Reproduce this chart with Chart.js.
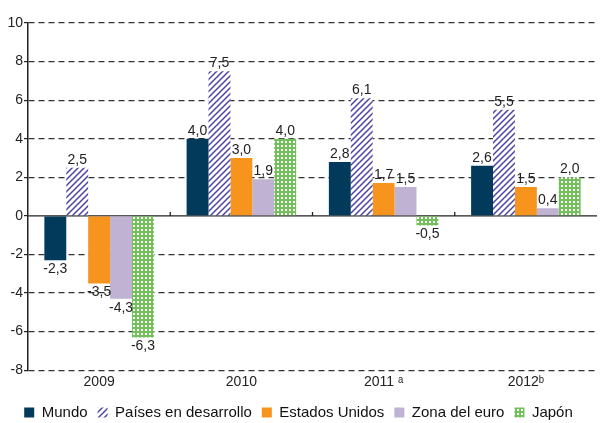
<!DOCTYPE html>
<html lang="es">
<head>
<meta charset="UTF-8">
<title>Crecimiento del PIB</title>
<style>
    html, body { margin: 0; padding: 0; background: #ffffff; }
    .chart-box { width: 602px; height: 423px; }
</style>
</head>
<body>
<div class="chart-box"><canvas id="grafico"></canvas></div>
<script src="https://cdn.jsdelivr.net/npm/chart.js"></script>
<script>
    // Datos
    const anios = ['2009', '2010', '2011 ᵃ', '2012ᵇ'];
    const mundo = [-2.3, 4.0, 2.8, 2.6];
    const paisesDesarrollo = [2.5, 7.5, 6.1, 5.5];
    const estadosUnidos = [-3.5, 3.0, 1.7, 1.5];
    const zonaEuro = [-4.3, 1.9, 1.5, 0.4];
    const japon = [-6.3, 4.0, -0.5, 2.0];
    const ticksY = [-8, -6, -4, -2, 0, 2, 4, 6, 8, 10];

    const FUENTE = '"Liberation Sans", Arial, sans-serif';

    // Tramas
    function tramaRayas() {
        const c = document.createElement('canvas');
        c.width = 6; c.height = 6;
        const g = c.getContext('2d');
        g.fillStyle = '#ffffff';
        g.fillRect(0, 0, 6, 6);
        g.strokeStyle = '#4e43a6';
        g.lineWidth = 1.5;
        g.beginPath();
        g.moveTo(-1, 7); g.lineTo(7, -1);
        g.moveTo(-4, 4); g.lineTo(4, -4);
        g.moveTo(2, 10); g.lineTo(10, 2);
        g.stroke();
        return g.createPattern(c, 'repeat');
    }

    function tramaPuntos() {
        const c = document.createElement('canvas');
        c.width = 4; c.height = 4;
        const g = c.getContext('2d');
        g.fillStyle = '#73bf5a';
        g.fillRect(0, 0, 4, 4);
        g.fillStyle = '#ffffff';
        g.fillRect(1, 1, 2, 2);
        return g.createPattern(c, 'repeat');
    }

    const rayas = tramaRayas();
    const puntos = tramaPuntos();

    const fmt = v => v.toFixed(1).replace('.', ',');

    // Linea del cero y marcas de categoria
    const lineaCero = {
        id: 'lineaCero',
        beforeDatasetsDraw(chart) {
            const { ctx, chartArea, scales } = chart;
            const y0 = scales.y.getPixelForValue(0);
            ctx.save();
            ctx.strokeStyle = '#222';
            ctx.lineWidth = 1.3;
            ctx.beginPath();
            ctx.moveTo(chartArea.left, y0);
            ctx.lineTo(chartArea.right, y0);
            for (let i = 0; i < anios.length - 1; i++) {
                const xm = (scales.x.getPixelForValue(i) + scales.x.getPixelForValue(i + 1)) / 2;
                ctx.moveTo(xm, y0);
                ctx.lineTo(xm, y0 - 4);
            }
            ctx.stroke();
            ctx.restore();
        }
    };

    // Etiquetas de valores
    const etiquetas = {
        id: 'etiquetas',
        afterDatasetsDraw(chart) {
            const { ctx } = chart;
            ctx.save();
            ctx.font = '14px ' + FUENTE;
            ctx.fillStyle = '#222';
            ctx.textAlign = 'center';
            chart.data.datasets.forEach((ds, i) => {
                chart.getDatasetMeta(i).data.forEach((bar, j) => {
                    const v = ds.data[j];
                    if (v >= 0) {
                        ctx.textBaseline = 'bottom';
                        ctx.fillText(fmt(v), bar.x, bar.y - 1);
                    } else {
                        ctx.textBaseline = 'top';
                        ctx.fillText(fmt(v), bar.x, bar.y + 2);
                    }
                });
            });
            ctx.restore();
        }
    };

    const grafico = new Chart(document.getElementById('grafico'), {
        type: 'bar',
        data: {
            labels: anios,
            datasets: [
                { label: 'Mundo', data: mundo, backgroundColor: '#023a5c' },
                { label: 'Países en desarrollo', data: paisesDesarrollo, backgroundColor: rayas },
                { label: 'Estados Unidos', data: estadosUnidos, backgroundColor: '#f7941e' },
                { label: 'Zona del euro', data: zonaEuro, backgroundColor: '#bfb2d2' },
                { label: 'Japón', data: japon, backgroundColor: puntos }
            ]
        },
        options: {
            responsive: true,
            maintainAspectRatio: false,
            animation: false,
            layout: { padding: { top: 23, right: 5, bottom: -7, left: 0 } },
            datasets: { bar: { categoryPercentage: 0.77, barPercentage: 1.0, borderWidth: 0 } },
            plugins: {
                tooltip: { enabled: false },
                legend: {
                    position: 'bottom',
                    labels: {
                        boxWidth: 10,
                        boxHeight: 10,
                        padding: 10,
                        color: '#111',
                        font: { family: FUENTE, size: 15 }
                    }
                }
            },
            scales: {
                x: {
                    grid: { display: false, drawTicks: false },
                    border: { display: false },
                    ticks: { color: '#222', font: { family: FUENTE, size: 14 }, padding: 4 }
                },
                y: {
                    min: -8,
                    max: 10,
                    afterBuildTicks: scale => { scale.ticks = ticksY.map(v => ({ value: v })); },
                    afterFit: scale => { scale.width = 28; },
                    grid: {
                        color: ctx => (ctx.tick && ctx.tick.value === 0) ? 'rgba(0,0,0,0)' : '#333',
                        lineWidth: 1.2,
                        tickLength: 4,
                        tickColor: '#222'
                    },
                    border: { display: true, color: '#222', width: 1.5, dash: [6, 4] },
                    ticks: {
                        color: '#222',
                        padding: 1,
                        font: { family: FUENTE, size: 14 },
                        callback: v => String(v)
                    }
                }
            }
        },
        plugins: [lineaCero, etiquetas]
    });
</script>
</body>
</html>
